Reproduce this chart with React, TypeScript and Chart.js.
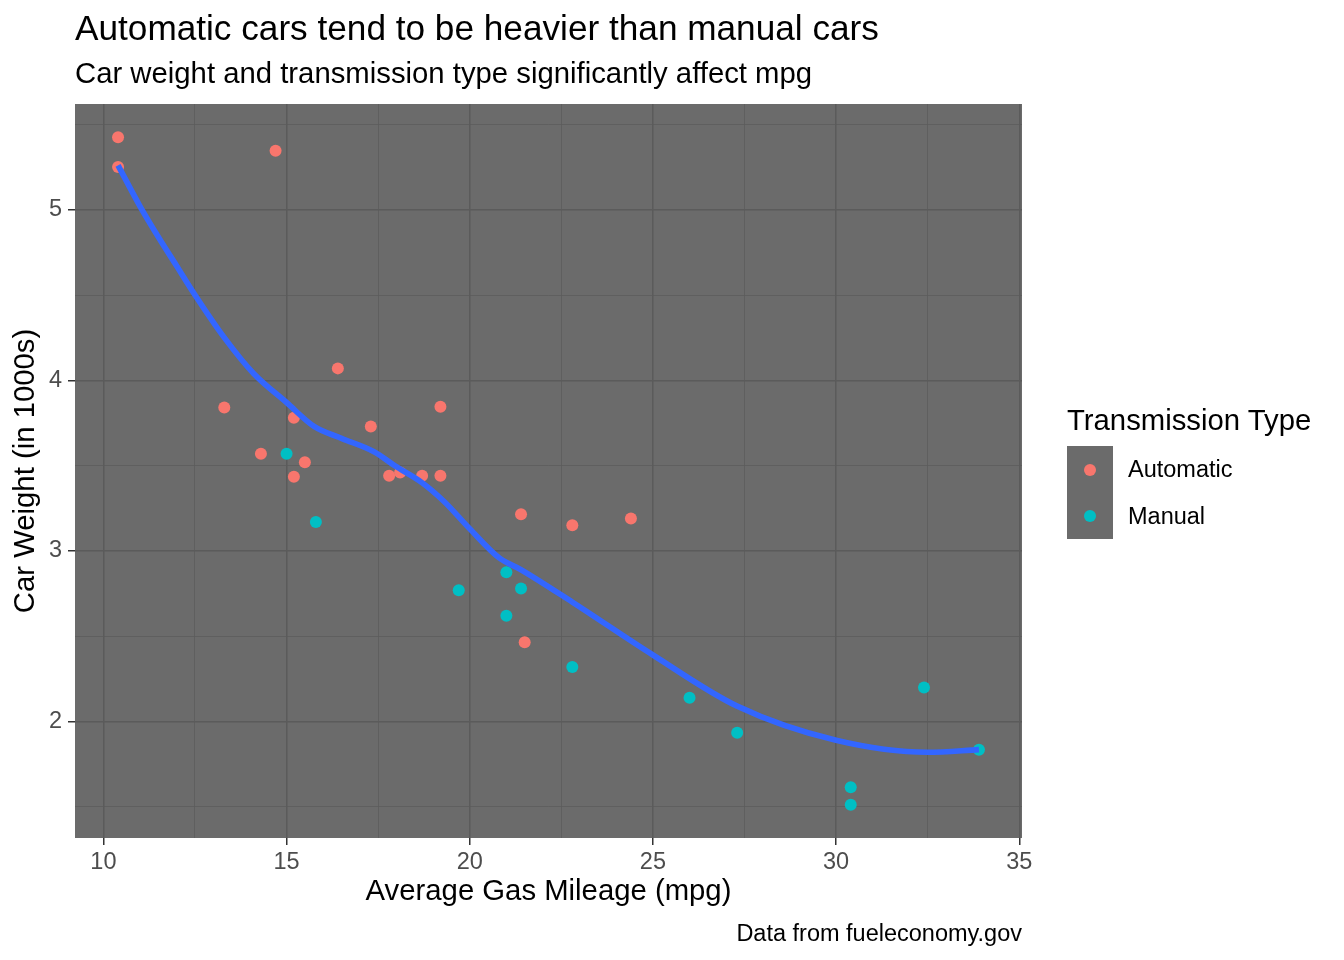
import { useEffect, useRef } from "react";
import { Chart, registerables } from "chart.js";

Chart.register(...registerables);

// mtcars: mpg vs wt, split by transmission
const autoMpg = [21.4, 18.7, 18.1, 14.3, 24.4, 22.8, 19.2, 17.8, 16.4, 17.3, 15.2, 10.4, 10.4, 14.7, 21.5, 15.5, 15.2, 13.3, 19.2];
const autoWt = [3.215, 3.44, 3.46, 3.57, 3.19, 3.15, 3.44, 3.44, 4.07, 3.73, 3.78, 5.25, 5.424, 5.345, 2.465, 3.52, 3.435, 3.84, 3.845];
const manualMpg = [21.0, 21.0, 22.8, 32.4, 30.4, 33.9, 27.3, 26.0, 30.4, 15.8, 19.7, 15.0, 21.4];
const manualWt = [2.62, 2.875, 2.32, 2.2, 1.615, 1.835, 1.935, 2.14, 1.513, 3.17, 2.77, 3.57, 2.78];

// smoothed trend
const smoothMpg = [10.4, 11.0, 11.5, 12.0, 12.5, 13.3, 14.1, 15.0, 15.75, 16.5, 17.4, 17.95, 18.7, 19.3, 20.0, 20.8, 21.4, 22.8, 25.0, 27.3, 30.0, 32.5, 33.9];
const smoothWt = [5.26, 5.02, 4.84, 4.67, 4.5, 4.25, 4.04, 3.87, 3.73, 3.66, 3.58, 3.5, 3.4, 3.29, 3.13, 2.96, 2.89, 2.7, 2.39, 2.09, 1.89, 1.82, 1.835];

const xMajor = [10, 15, 20, 25, 30, 35];
const xMinor = [12.5, 17.5, 22.5, 27.5, 32.5];
const yMajor = [2, 3, 4, 5];
const yMinor = [1.5, 2.5, 3.5, 4.5, 5.5];

const FONT = '"Liberation Sans", Arial, Helvetica, sans-serif';
const PANEL = "#6B6B6B";
const GRID = "#5B5B5B";
const RED = "#F8766D";
const TEAL = "#00BFC4";

const toXY = (xs: number[], ys: number[]) => xs.map((x, i) => ({ x, y: ys[i] }));

const panelFill = {
  id: "panelFill",
  beforeDraw(chart: any) {
    const { ctx, chartArea: a } = chart;
    ctx.save();
    ctx.fillStyle = PANEL;
    ctx.fillRect(a.left, a.top, a.right - a.left, a.bottom - a.top);
    ctx.restore();
  },
};

function ScatterChart() {
  const canvasEl = useRef<HTMLCanvasElement>(null);

  useEffect(() => {
    const chart = new Chart(canvasEl.current!, {
      type: "scatter",
      data: {
        datasets: [
          {
            label: "smooth",
            data: toXY(smoothMpg, smoothWt),
            showLine: true,
            borderColor: "#3366FF",
            borderWidth: 5.7,
            pointRadius: 0,
            cubicInterpolationMode: "monotone",
            fill: false,
            order: 0,
          } as any,
          {
            label: "Automatic",
            data: toXY(autoMpg, autoWt),
            backgroundColor: RED,
            borderColor: RED,
            pointRadius: 6,
            pointBorderWidth: 0,
            order: 1,
          },
          {
            label: "Manual",
            data: toXY(manualMpg, manualWt),
            backgroundColor: TEAL,
            borderColor: TEAL,
            pointRadius: 6,
            pointBorderWidth: 0,
            order: 1,
          },
        ],
      },
      options: {
        animation: false,
        responsive: false,
        devicePixelRatio: 1,
        layout: { padding: { top: 104, right: 322, bottom: 0, left: 0 } },
        plugins: { legend: { display: false }, tooltip: { enabled: false } },
        scales: {
          x: {
            type: "linear",
            min: 9.225,
            max: 35.075,
            afterBuildTicks: (s: any) => {
              s.ticks = [...xMajor, ...xMinor].sort((a, b) => a - b).map((v) => ({ value: v }));
            },
            afterFit: (s: any) => {
              s.height = 122;
            },
            ticks: {
              callback: (v: any) => (xMajor.includes(v) ? String(v) : ""),
              color: "#4D4D4D",
              font: { family: FONT, size: 23.5 },
              padding: 3,
              autoSkip: false,
              maxRotation: 0,
            },
            grid: {
              color: GRID,
              lineWidth: (c: any) => (xMajor.includes(c.tick?.value) ? 1.5 : 0.75),
              tickLength: 7,
              tickWidth: 1.5,
              tickColor: (c: any) => (xMajor.includes(c.tick?.value) ? "#333333" : "rgba(0,0,0,0)"),
            },
            border: { display: false },
            title: {
              display: true,
              text: "Average Gas Mileage (mpg)",
              color: "#000000",
              font: { family: FONT, size: 29.3 },
              padding: { top: 0, bottom: 50.6 },
            },
          },
          y: {
            type: "linear",
            min: 1.31745,
            max: 5.61955,
            afterBuildTicks: (s: any) => {
              s.ticks = [...yMajor, ...yMinor].sort((a, b) => a - b).map((v) => ({ value: v }));
            },
            afterFit: (s: any) => {
              s.width = 75;
            },
            ticks: {
              callback: (v: any) => (yMajor.includes(v) ? String(v) : ""),
              color: "#4D4D4D",
              font: { family: FONT, size: 23.5 },
              padding: 6,
              autoSkip: false,
            },
            grid: {
              color: GRID,
              lineWidth: (c: any) => (yMajor.includes(c.tick?.value) ? 1.5 : 0.75),
              tickLength: 7,
              tickWidth: 1.5,
              tickColor: (c: any) => (yMajor.includes(c.tick?.value) ? "#333333" : "rgba(0,0,0,0)"),
            },
            border: { display: false },
            title: {
              display: true,
              text: "Car Weight (in 1000s)",
              color: "#000000",
              font: { family: FONT, size: 29.3 },
              padding: { top: 8.3, bottom: 0 },
            },
          },
        },
      },
      plugins: [panelFill],
    });
    return () => {
      chart.destroy();
    };
  }, []);

  return <canvas ref={canvasEl} width={1344} height={960} style={{ position: "absolute", left: 0, top: 0, width: 1344, height: 960 }} />;
}

const text = (size: number, top: number, left: number, color = "#000") => ({
  position: "absolute" as const,
  top,
  left,
  fontFamily: FONT,
  fontSize: size,
  lineHeight: 1,
  color,
  whiteSpace: "nowrap" as const,
});

export default function App() {
  return (
    <div style={{ position: "absolute", left: 0, top: 0, width: 1344, height: 960, background: "#fff", overflow: "hidden" }}>
      <ScatterChart />
      <div style={text(35.2, 10.2, 75)}>Automatic cars tend to be heavier than manual cars</div>
      <div style={text(29.3, 58.2, 75)}>Car weight and transmission type significantly affect mpg</div>
      <div style={{ ...text(23.5, 921.6, 0), left: "auto", right: 322 }}>Data from fueleconomy.gov</div>

      <div style={text(29.3, 405, 1067)}>Transmission Type</div>
      <div style={{ position: "absolute", left: 1067, top: 446, width: 46, height: 93, background: PANEL }}>
        <div style={{ position: "absolute", left: 17, top: 17.5, width: 12, height: 12, borderRadius: 6, background: RED }} />
        <div style={{ position: "absolute", left: 17, top: 64, width: 12, height: 12, borderRadius: 6, background: TEAL }} />
      </div>
      <div style={text(23.5, 458.2, 1128)}>Automatic</div>
      <div style={text(23.5, 505, 1128)}>Manual</div>
    </div>
  );
}
